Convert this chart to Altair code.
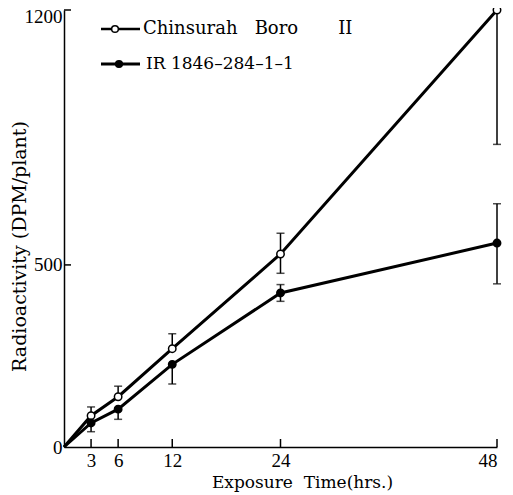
import altair as alt
import pandas as pd

# ---- data ----
hours = [0, 3, 6, 12, 24, 48]
chinsurah = [0, 86, 138, 270, 530, 1200]
ir1846 = [0, 66, 104, 227, 423, 560]

# drawn error-bar extents (one-sided where the original shows only one side)
chin_lo = [0, 86, 138, 270, 477, 831]
chin_hi = [0, 110, 167, 311, 587, 1200]
ir_lo = [0, 42, 76, 173, 400, 448]
ir_hi = [0, 66, 104, 227, 446, 668]

NB = "\u00a0"
series_names = ["Chinsurah" + NB * 2 + " Boro" + NB * 6 + " II", "IR 1846–284–1–1"]
x_ticks = [3, 6, 12, 24, 48]
y_ticks = [0, 500, 1200]

NUMFONT = "Liberation Serif"
FONT = "DejaVu Serif"

rows, err_rows, cap_rows = [], [], []
for name, vals, lo, hi in [
    (series_names[0], chinsurah, chin_lo, chin_hi),
    (series_names[1], ir1846, ir_lo, ir_hi),
]:
    for t, v, l, h in zip(hours, vals, lo, hi):
        rows.append({"t": t, "v": v, "s": name})
        if t > 0:
            err_rows.append({"t": t, "lo": l, "hi": h, "s": name})
            for e in (l, h):
                if e != v:
                    cap_rows.append({"t": t, "e": e, "s": name})

df = pd.DataFrame(rows)
df_err = pd.DataFrame(err_rows)
df_cap = pd.DataFrame(cap_rows)

xs = alt.Scale(domain=[0, 48], nice=False, zero=False)
ys = alt.Scale(domain=[0, 1200], nice=False, zero=False)

xaxis = alt.Axis(
    values=x_ticks, tickSize=0, labelPadding=4, grid=False, format="d",
    domainColor="black", domainWidth=1.5, labelColor="black",
    labelFont=NUMFONT, labelFontSize=19, title="Exposure\u00a0\u00a0Time(hrs.)",
    titleFont=FONT, titleFontSize=17, titleFontWeight="normal",
    titleColor="black", titleX=238, titleY=40, titleBaseline="alphabetic",
    titleAlign="center",
)
yaxis = alt.Axis(
    values=y_ticks, tickSize=0, labelPadding=2, grid=False, format="d",
    domainColor="black", domainWidth=1.5, labelColor="black",
    labelFont=NUMFONT, labelFontSize=19, labelBaseline="middle",
    labelOffset={"condition": {"test": "datum.value === 1200", "value": 6}, "value": 0},
    title="Radioactivity (DPM/plant)", titleFont=FONT, titleFontSize=19,
    titleFontWeight="normal", titleColor="black", titleX=-35, titleY=236,
    titleAngle=270, titleBaseline="bottom", titleAlign="center",
)

base = alt.Chart(df)

lines = base.mark_line(color="black", strokeWidth=3).encode(
    x=alt.X("t:Q", scale=xs, axis=xaxis),
    y=alt.Y("v:Q", scale=ys, axis=yaxis),
    detail="s:N",
)

err = alt.Chart(df_err).mark_rule(color="black", strokeWidth=1.5).encode(
    x=alt.X("t:Q", scale=xs), y=alt.Y("lo:Q", scale=ys), y2="hi:Q"
)
caps = alt.Chart(df_cap).mark_tick(
    color="black", orient="horizontal", size=8, thickness=1.5
).encode(x=alt.X("t:Q", scale=xs), y=alt.Y("e:Q", scale=ys))

pts = alt.Chart(df[df.t > 0]).mark_point(
    shape="circle", size=55, strokeWidth=1.5, opacity=1, filled=False
).encode(
    x=alt.X("t:Q", scale=xs),
    y=alt.Y("v:Q", scale=ys),
    fill=alt.Fill("s:N", scale=alt.Scale(domain=series_names, range=["white", "black"]), legend=None),
    stroke=alt.value("black"),
)

# inward axis ticks
ytick_df = pd.DataFrame({"y": y_ticks[1:]})
xtick_df = pd.DataFrame({"x": x_ticks})
yt = alt.Chart(ytick_df).mark_rule(color="black", strokeWidth=1.5).encode(
    y=alt.Y("y:Q", scale=ys), x=alt.value(0), x2=alt.value(7)
)
xt = alt.Chart(xtick_df).mark_rule(color="black", strokeWidth=1.5).encode(
    x=alt.X("x:Q", scale=xs), y=alt.value(437), y2=alt.value(429)
)

# manual legend
leg_df = pd.DataFrame({"s": series_names})
legend_layers = []
for i, (name, fill, cx) in enumerate([(series_names[0], "white", 51), (series_names[1], "black", 55)]):
    yy = 19 + i * 35
    one = alt.Chart(leg_df[leg_df.s == name])
    legend_layers.append(one.mark_rule(color="black", strokeWidth=3 if i else 2.5).encode(
        x=alt.value(37), x2=alt.value(76), y=alt.value(yy)))
    legend_layers.append(one.mark_point(shape="circle", size=45, filled=False, opacity=1,
                                        strokeWidth=1.5, fill=fill, stroke="black").encode(
        x=alt.value(cx), y=alt.value(yy)))
    legend_layers.append(one.mark_text(align="left", baseline="middle", font=FONT,
                                       fontSize=18 if i == 0 else 17, color="black").encode(
        x=alt.value(79 if i == 0 else 82), y=alt.value(yy), text="s:N"))

chart = alt.layer(lines, err, caps, pts, yt, xt, *legend_layers).properties(
    width=433, height=437,
    autosize=alt.AutoSizeParams(type="none"),
    padding={"left": 56, "top": 2, "right": 8, "bottom": 50},
    background="white",
).configure_view(stroke=None)

chart.save("out.html", embed_options={"renderer": "svg", "actions": False})
